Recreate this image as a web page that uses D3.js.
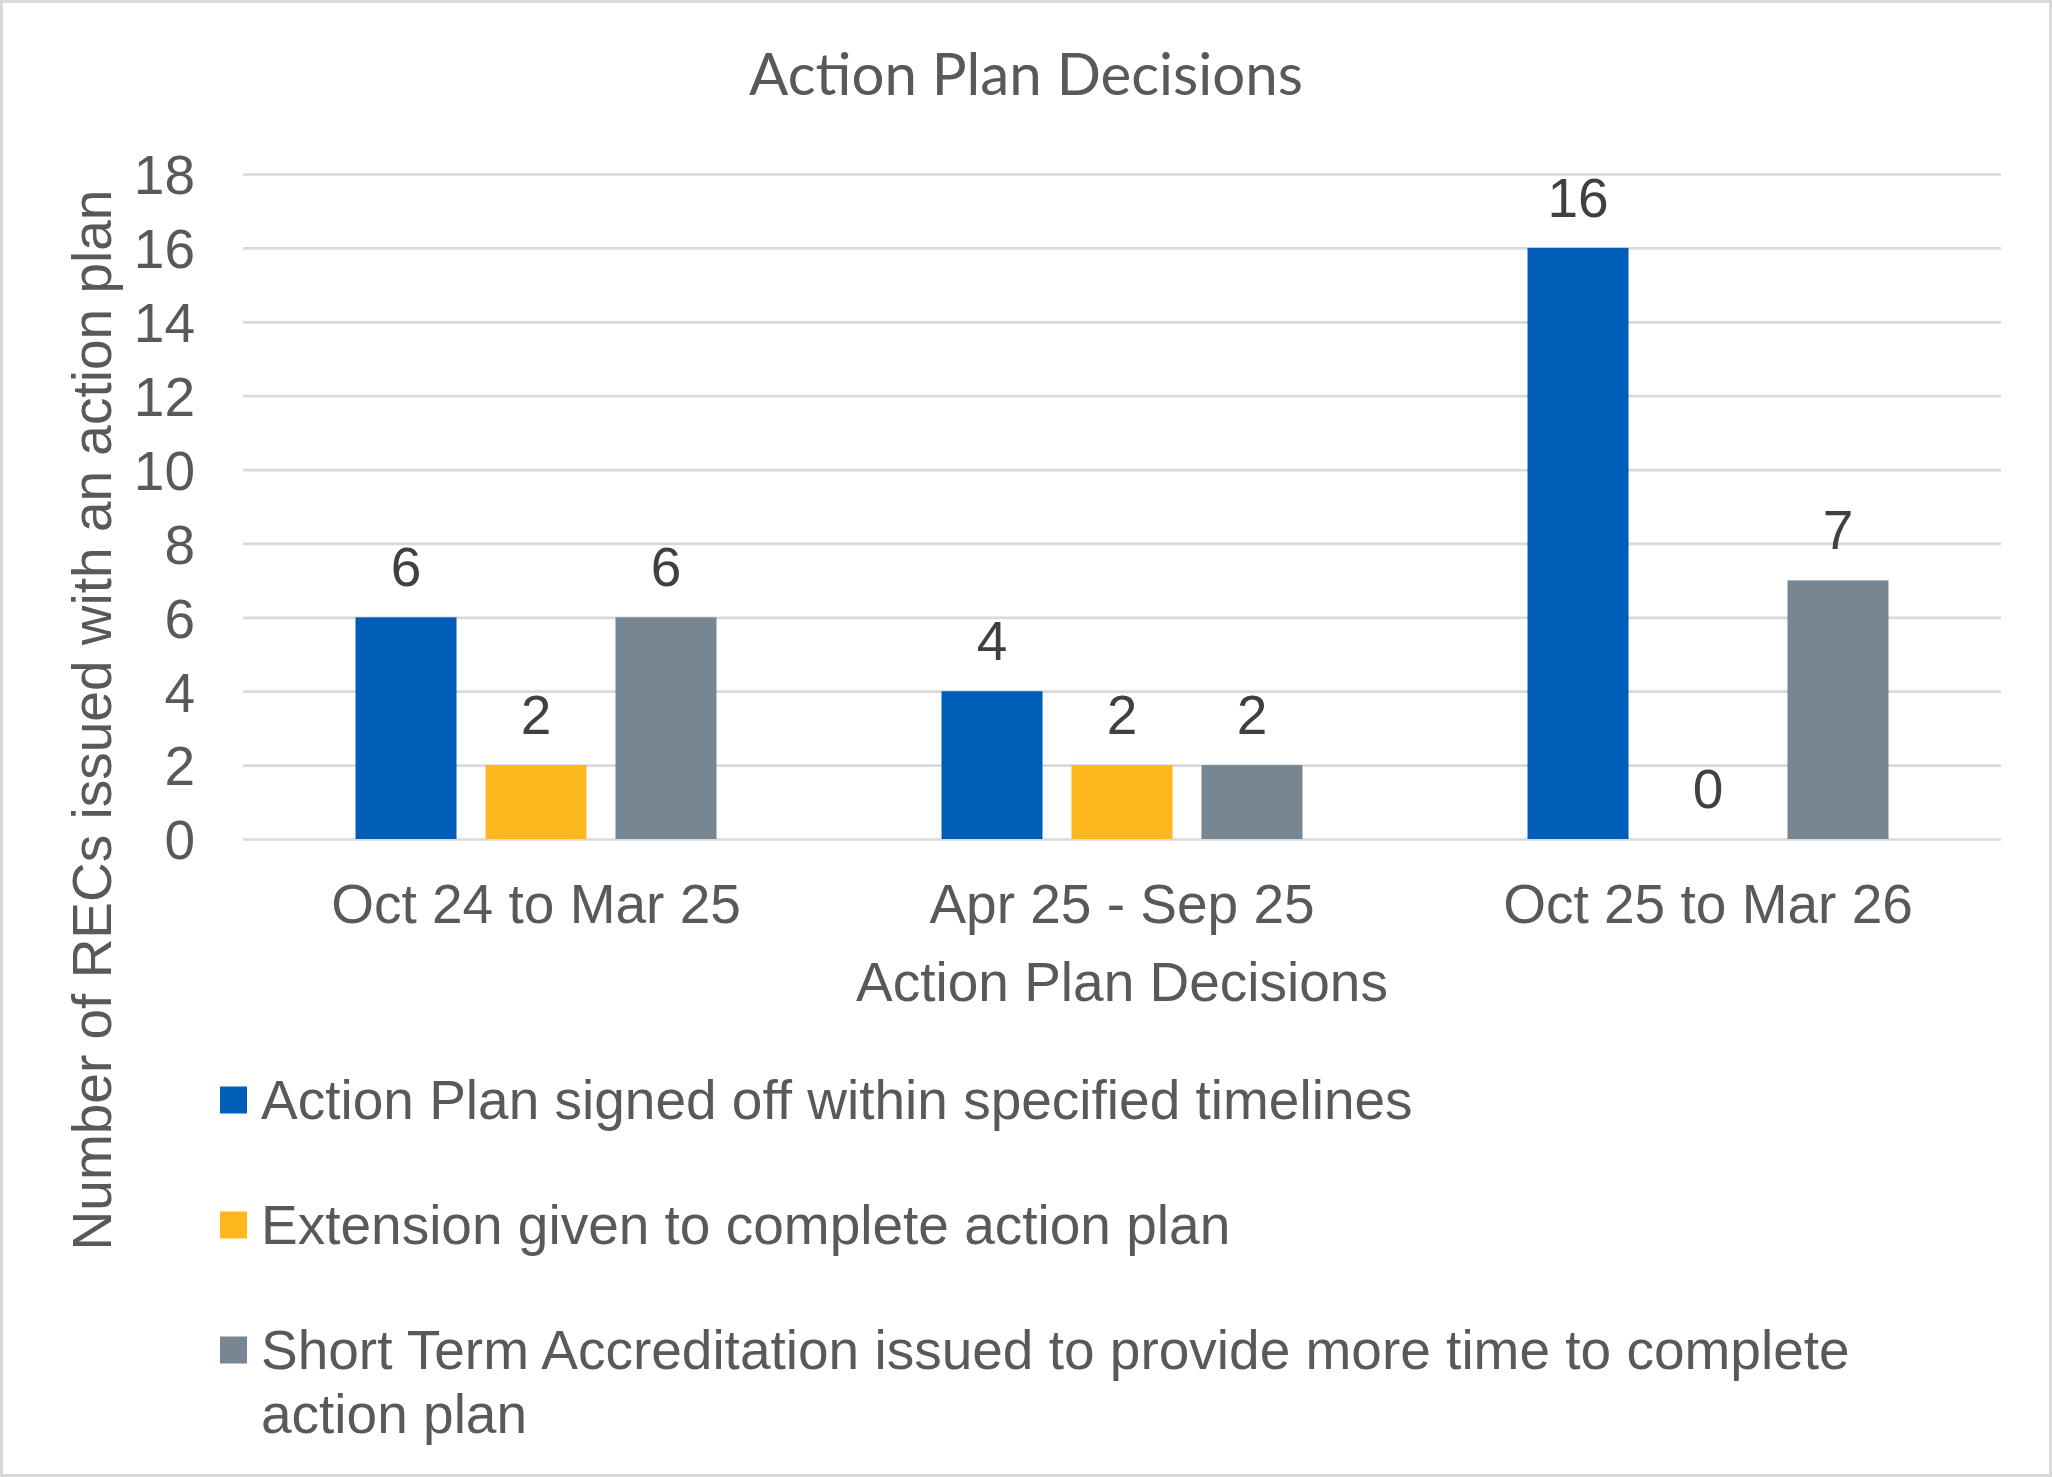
<!DOCTYPE html>
<html>
<head>
<meta charset="utf-8">
<script src="https://cdn.jsdelivr.net/npm/d3@7"></script>
<style>
  body { margin: 0; background: #fff; }
  svg { display: block; }
</style>
</head>
<body>
<div class="container"></div>
<script>
// chart data
var categories = ["Oct 24 to Mar 25", "Apr 25 - Sep 25", "Oct 25 to Mar 26"];
var seriesNames = [
  "Action Plan signed off within specified timelines",
  "Extension given to complete action plan",
  "Short Term Accreditation issued to provide more time to complete action plan"
];
var signedOff = [6, 4, 16];
var extension = [2, 2, 0];
var shortTerm = [6, 2, 7];
var yTicks = [0, 2, 4, 6, 8, 10, 12, 14, 16, 18];
var colors = ["#005EB8", "#FFB81C", "#768692"];

var chartTitle = "Action Plan Decisions";
var xTitle = "Action Plan Decisions";
var yTitle = "Number of RECs issued with an action plan";

var W = 2052, H = 1477;
var margin = {left: 243, right: 51, top: 174, bottom: 638};
var plotW = W - margin.left - margin.right;
var plotH = H - margin.top - margin.bottom;
var font = "'Liberation Sans', Arial, sans-serif";
var textColor = "#595959";

var svg = d3.select('.container').append('svg')
  .attr('width', W).attr('height', H);

svg.append('rect')
  .attr('x', 1.5).attr('y', 1.5)
  .attr('width', W - 3).attr('height', H - 3)
  .attr('fill', '#fff').attr('stroke', '#d9d9d9').attr('stroke-width', 3);

var g = svg.append('g').attr('transform', 'translate(' + margin.left + ',' + margin.top + ')');

var y = d3.scaleLinear().domain([0, 18]).range([plotH, 0]);
var x0 = d3.scaleBand().domain(categories).range([0, plotW]).padding(0);
var groupW = x0.bandwidth() * 0.616;
var x1 = d3.scaleBand().domain([0, 1, 2])
  .range([(x0.bandwidth() - groupW) / 2, (x0.bandwidth() + groupW) / 2])
  .paddingInner(0.223).paddingOuter(0);

// y axis + gridlines
var yAxis = g.append('g')
  .call(d3.axisLeft(y).tickValues(yTicks).tickSize(-plotW).tickPadding(48));
yAxis.select('.domain').remove();
yAxis.selectAll('.tick line').attr('stroke', '#d9d9d9').attr('stroke-width', 2.7);
yAxis.selectAll('.tick text')
  .attr('font-family', font).attr('font-size', 55).attr('fill', textColor)
  .attr('dy', '0.36em');

// category axis
var xAxis = g.append('g').attr('transform', 'translate(0,' + plotH + ')')
  .call(d3.axisBottom(x0).tickSize(0));
xAxis.select('.domain').remove();
xAxis.selectAll('.tick text')
  .attr('font-family', font).attr('font-size', 55).attr('fill', textColor)
  .attr('dy', null).attr('y', 84);

// bars
var seriesData = [signedOff, extension, shortTerm];
var rows = [];
seriesData.forEach(function(vals, s) {
  vals.forEach(function(v, i) {
    rows.push({cat: categories[i], s: s, v: v});
  });
});

g.selectAll('rect.bar').data(rows).enter().append('rect')
  .attr('class', 'bar')
  .attr('x', function(d) { return x0(d.cat) + x1(d.s); })
  .attr('y', function(d) { return y(d.v); })
  .attr('width', x1.bandwidth())
  .attr('height', function(d) { return y(0) - y(d.v); })
  .attr('fill', function(d) { return colors[d.s]; });

g.selectAll('text.lbl').data(rows).enter().append('text')
  .attr('class', 'lbl')
  .attr('x', function(d) { return x0(d.cat) + x1(d.s) + x1.bandwidth() / 2; })
  .attr('y', function(d) { return y(d.v) - 31; })
  .attr('text-anchor', 'middle')
  .attr('font-family', font).attr('font-size', 55).attr('fill', '#404040')
  .text(function(d) { return d.v; });

// titles
var title = svg.append('text')
  .attr('x', W / 2).attr('y', 95)
  .attr('text-anchor', 'middle')
  .attr('font-family', "Lato, 'Open Sans', sans-serif").attr('font-size', 60)
  .attr('fill', textColor)
  .text(chartTitle);
// fit title to the width seen in the picture
var tw = title.node().getComputedTextLength();
title.attr('font-size', 60 * 554 / tw);

svg.append('text')
  .attr('x', margin.left + plotW / 2).attr('y', 1001)
  .attr('text-anchor', 'middle')
  .attr('font-family', font).attr('font-size', 55).attr('fill', textColor)
  .text(xTitle);

svg.append('text')
  .attr('transform', 'translate(111,720) rotate(-90)')
  .attr('text-anchor', 'middle')
  .attr('font-family', font).attr('font-size', 55).attr('fill', textColor)
  .text(yTitle);

// legend
var legendTop = 1100, rowStep = 125, lineH = 64, maxTextW = 1680;
var legend = svg.append('g');
seriesNames.forEach(function(name, i) {
  var cy = legendTop + i * rowStep;
  legend.append('rect')
    .attr('x', 220).attr('y', cy - 13.5)
    .attr('width', 27).attr('height', 27)
    .attr('fill', colors[i]);
  var t = legend.append('text')
    .attr('x', 261).attr('y', cy + 19)
    .attr('font-family', font).attr('font-size', 55).attr('fill', textColor);
  // simple word wrap
  var words = name.split(' ');
  var line = [];
  var ts = t.append('tspan').attr('x', 261);
  words.forEach(function(w) {
    line.push(w);
    ts.text(line.join(' '));
    if (ts.node().getComputedTextLength() > maxTextW && line.length > 1) {
      line.pop();
      ts.text(line.join(' '));
      line = [w];
      ts = t.append('tspan').attr('x', 261).attr('dy', lineH).text(w);
    }
  });
});
</script>
</body>
</html>
